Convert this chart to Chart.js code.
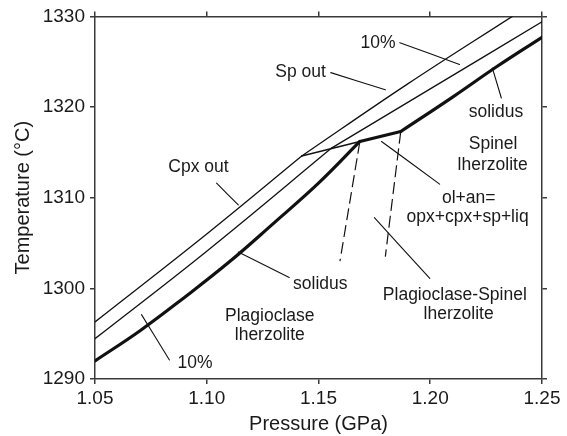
<!DOCTYPE html>
<html>
<head>
<meta charset="utf-8">
<script src="https://cdn.jsdelivr.net/npm/chart.js"></script>
<style>
  body { margin: 0; background: #fff; }
  canvas { display: block; }
</style>
</head>
<body>
<canvas id="grafico" width="567" height="436"></canvas>
<script>
// Ticks dos eixos
const xTicks = [1.05, 1.10, 1.15, 1.20, 1.25];
const yTicks = [1290, 1300, 1310, 1320, 1330];

// Solidus (linha grossa): trecho do plagioclásio, trecho de reação e trecho do espinélio
const solidusBaixoP = [1.05, 1.07, 1.09, 1.11, 1.13, 1.15, 1.1685];
const solidusBaixoT = [1292.0, 1295.3, 1299.0, 1302.9, 1307.2, 1311.6, 1316.2];
const solidusReacaoP = [1.1685, 1.1868];
const solidusReacaoT = [1316.2, 1317.3];
const solidusAltoP = [1.1868, 1.21, 1.23, 1.25];
const solidusAltoT = [1317.3, 1321.1, 1324.5, 1327.7];

// Curva de 10% de fusão (abaixo e acima da linha de reação)
const fusaoBaixoP = [1.05, 1.10, 1.156];
const fusaoBaixoT = [1294.45, 1304.1, 1315.5];
const fusaoAltoP = [1.156, 1.20, 1.25];
const fusaoAltoT = [1315.5, 1322.0, 1329.4];

// Cpx out (abaixo do joelho) e Sp out (acima)
const cpxOutP = [1.05, 1.10, 1.1425];
const cpxOutT = [1296.3, 1306.0, 1314.6];
const spOutP = [1.1425, 1.1896, 1.2367];
const spOutT = [1314.6, 1322.5, 1330.0];

// Linha de reação entre Cpx out e o solidus
const reacaoP = [1.1425, 1.1685];
const reacaoT = [1314.6, 1316.2];

// Linhas tracejadas (limites plagioclásio / espinélio)
const tracejada1P = [1.1685, 1.1596];
const tracejada1T = [1316.2, 1303.0];
const tracejada2P = [1.1868, 1.1799];
const tracejada2T = [1317.3, 1303.5];

// Setas dos rótulos: [P1, T1, P2, T2]
const setas = [
  [1.1044, 1311.6, 1.1141, 1309.2],   // Cpx out
  [1.1555, 1323.8, 1.1799, 1321.9],   // Sp out
  [1.1864, 1327.1, 1.2131, 1324.7],   // 10% (topo)
  [1.2278, 1324.3, 1.2318, 1321.0],   // solidus (direita)
  [1.1782, 1316.2, 1.2042, 1311.5],   // ol+an=
  [1.1750, 1307.8, 1.1998, 1301.1],   // Plagioclase-Spinel
  [1.1141, 1304.0, 1.1369, 1301.2],   // solidus (baixo)
  [1.0708, 1297.1, 1.0833, 1292.1]    // 10% (baixo)
];

// Rótulos de texto
const rotulos = [
  { texto: "Sp out", p: 1.1420, t: 1323.8 },
  { texto: "10%", p: 1.1766, t: 1327.1 },
  { texto: "Cpx out", p: 1.0963, t: 1313.35 },
  { texto: "solidus", p: 1.2294, t: 1319.4 },
  { texto: "Spinel", p: 1.2281, t: 1315.85 },
  { texto: "lherzolite", p: 1.2279, t: 1313.6 },
  { texto: "ol+an=", p: 1.2172, t: 1310.0 },
  { texto: "opx+cpx+sp+liq", p: 1.2167, t: 1307.8 },
  { texto: "solidus", p: 1.1508, t: 1300.5 },
  { texto: "Plagioclase-Spinel", p: 1.2110, t: 1299.3 },
  { texto: "lherzolite", p: 1.2127, t: 1297.1 },
  { texto: "Plagioclase", p: 1.1282, t: 1296.9 },
  { texto: "lherzolite", p: 1.1282, t: 1294.8 },
  { texto: "10%", p: 1.0948, t: 1291.8 }
];

const fonte = '"Liberation Sans", Arial, Helvetica, sans-serif';
const corTexto = "#1a1a1a";
const corEixo = "#3a3a3a";

// Monta os pontos {x, y} a partir de duas listas
function pontos(ps, ts) {
  return ps.map((p, i) => ({ x: p, y: ts[i] }));
}

function linha(ps, ts, largura, tracejado) {
  return {
    data: pontos(ps, ts),
    showLine: true,
    borderColor: "#111",
    borderWidth: largura,
    borderDash: tracejado || [],
    pointRadius: 0,
    tension: 0.4,
    borderCapStyle: "round",
    borderJoinStyle: "round"
  };
}

const datasets = [
  linha(cpxOutP, cpxOutT, 1.3),
  linha(spOutP, spOutT, 1.3),
  linha(fusaoBaixoP, fusaoBaixoT, 1.3),
  linha(fusaoAltoP, fusaoAltoT, 1.3),
  linha(reacaoP, reacaoT, 1.3),
  linha(solidusBaixoP, solidusBaixoT, 3.2),
  linha(solidusReacaoP, solidusReacaoT, 3.2),
  linha(solidusAltoP, solidusAltoT, 3.2),
  linha(tracejada1P, tracejada1T, 1.2, [12, 5]),
  linha(tracejada2P, tracejada2T, 1.2, [12, 5])
];
datasets[8].borderCapStyle = "butt";
datasets[9].borderCapStyle = "butt";
setas.forEach(s => datasets.push(linha([s[0], s[2]], [s[1], s[3]], 1.1)));

// Plugin para escrever os rótulos dentro do gráfico
const rotulosPlugin = {
  id: "rotulos",
  afterDatasetsDraw(chart) {
    const { ctx, scales: { x, y } } = chart;
    ctx.save();
    ctx.font = "17.5px " + fonte;
    ctx.fillStyle = corTexto;
    ctx.textAlign = "center";
    ctx.textBaseline = "middle";
    rotulos.forEach(r => {
      ctx.fillText(r.texto, x.getPixelForValue(r.p), y.getPixelForValue(r.t));
    });
    ctx.restore();
  }
};

function eixo(posicao, min, max, valores, mostrarLabels, tamanho) {
  const horizontal = posicao === "bottom" || posicao === "top";
  return {
    type: "linear",
    position: posicao,
    min: min,
    max: max,
    afterBuildTicks: s => { s.ticks = valores.map(v => ({ value: v })); },
    afterFit: s => {
      if (horizontal) s.height = tamanho; else s.width = tamanho;
    },
    ticks: {
      display: mostrarLabels,
      autoSkip: false,
      maxRotation: 0,
      padding: horizontal ? 3 : 5,
      color: corTexto,
      font: { family: fonte, size: 19 },
      callback: v => horizontal ? v.toFixed(2) : v.toFixed(0)
    },
    grid: { drawOnChartArea: false, tickLength: 5, color: corEixo, lineWidth: 1.5 },
    border: { color: corEixo, width: 1.5 }
  };
}

const escalas = {
  x: eixo("bottom", 1.05, 1.25, xTicks, true, 57),
  xTopo: eixo("top", 1.05, 1.25, xTicks, false, 15),
  y: eixo("left", 1290, 1330, yTicks, true, 95),
  yDireita: eixo("right", 1290, 1330, yTicks, false, 25)
};
escalas.x.title = {
  display: true, text: "Pressure (GPa)", color: corTexto,
  font: { family: fonte, size: 20 }, padding: { top: 0, bottom: 0 }
};
escalas.y.title = {
  display: true, text: "Temperature (°C)", color: corTexto,
  font: { family: fonte, size: 20 }, padding: { top: 11, bottom: 0 }
};

new Chart(document.getElementById("grafico").getContext("2d"), {
  type: "scatter",
  data: { datasets: datasets },
  options: {
    responsive: false,
    animation: false,
    layout: { padding: 0 },
    plugins: { legend: { display: false }, tooltip: { enabled: false } },
    scales: escalas
  },
  plugins: [rotulosPlugin]
});
</script>
</body>
</html>
